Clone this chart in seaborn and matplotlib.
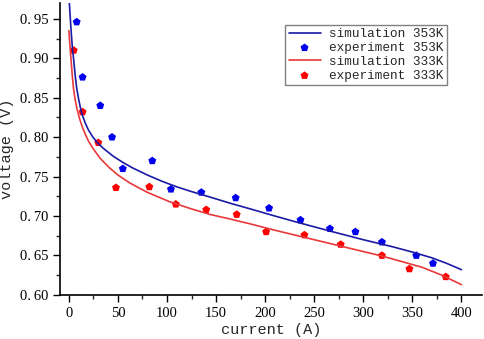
import numpy as np
import pandas as pd
import seaborn as sns
import matplotlib.pyplot as plt
from matplotlib.ticker import MultipleLocator, FuncFormatter

# simulation curves
sim_current_353 = [0.3, 1, 2.3, 3.5, 5, 6.5, 8, 10, 12, 14, 17, 20, 24, 29, 35, 45, 55, 65, 80,
                   95, 110, 125, 144, 165, 185, 210, 233, 266, 300, 330, 351, 370, 385, 400]
sim_voltage_353 = [0.974, 0.960, 0.935, 0.915, 0.897, 0.878, 0.862, 0.848, 0.836, 0.827, 0.817,
                   0.809, 0.801, 0.793, 0.786, 0.776, 0.768, 0.761, 0.752, 0.744, 0.737, 0.731,
                   0.724, 0.716, 0.709, 0.700, 0.692, 0.681, 0.670, 0.661, 0.654, 0.647, 0.640,
                   0.632]

sim_current_333 = [0, 1, 2.3, 3.5, 4.8, 6.5, 8.5, 11, 14, 17, 20, 25, 32, 41.5, 50, 62, 80, 103,
                   125, 144, 165, 185, 210, 240, 270, 300, 320, 340, 360, 380, 400]
sim_voltage_333 = [0.935, 0.918, 0.897, 0.878, 0.861, 0.847, 0.835, 0.823, 0.812, 0.803, 0.795,
                   0.785, 0.773, 0.761, 0.752, 0.742, 0.730, 0.718, 0.709, 0.702, 0.696, 0.690,
                   0.682, 0.673, 0.664, 0.655, 0.649, 0.642, 0.635, 0.625, 0.613]

# experiment points
exp_current_353 = [8, 14, 32, 44, 55, 85, 104, 135, 170, 204, 236, 266, 292, 319, 354, 371]
exp_voltage_353 = [0.946, 0.876, 0.840, 0.800, 0.760, 0.770, 0.734, 0.730, 0.723, 0.710, 0.695,
                   0.684, 0.680, 0.667, 0.650, 0.640]

exp_current_333 = [5, 14, 30, 48, 82, 109, 140, 171, 201, 240, 277, 319, 347, 384]
exp_voltage_333 = [0.910, 0.832, 0.793, 0.736, 0.737, 0.715, 0.708, 0.702, 0.680, 0.676, 0.664,
                   0.650, 0.633, 0.623]

sns.set_style("ticks")
plt.rcParams['font.family'] = ['Liberation Serif', 'DejaVu Serif']
mono = ['Liberation Mono', 'DejaVu Sans Mono']

fig = plt.figure(figsize=(4.84, 3.39), dpi=100)
ax = fig.add_axes([0.124, 0.130, 0.872, 0.861])

sns.lineplot(x=sim_current_353, y=sim_voltage_353, color='#1a1aa6', lw=1.2, sort=False,
             ax=ax, label='simulation 353K')
sns.scatterplot(x=exp_current_353, y=exp_voltage_353, color='#0000ee', marker='p', s=36,
                edgecolor='none', ax=ax, label='experiment 353K')
sns.lineplot(x=sim_current_333, y=sim_voltage_333, color='#e8383b', lw=1.2, sort=False,
             ax=ax, label='simulation 333K')
sns.scatterplot(x=exp_current_333, y=exp_voltage_333, color='#ff0000', marker='p', s=36,
                edgecolor='none', ax=ax, label='experiment 333K')

ax.set_xlim(-9, 421)
ax.set_ylim(0.60, 0.97)
ax.xaxis.set_major_locator(MultipleLocator(50))
ax.xaxis.set_minor_locator(MultipleLocator(25))
ax.yaxis.set_major_locator(MultipleLocator(0.05))
ax.yaxis.set_minor_locator(MultipleLocator(0.025))
ax.yaxis.set_major_formatter(FuncFormatter(lambda v, p: f"{v:.2f}".replace('.', '.\u2009')))
ax.tick_params(axis='both', which='major', direction='out', length=5, width=1, labelsize=10.5,
               colors='black')
ax.tick_params(axis='both', which='minor', direction='out', length=3, width=1)
for s in ['left', 'bottom']:
    ax.spines[s].set_linewidth(1.2)
    ax.spines[s].set_color('black')
sns.despine(ax=ax)

ax.set_xlabel('current (A)', family=mono, fontsize=11, labelpad=2)
ax.set_ylabel('voltage (V)', family=mono, fontsize=11, labelpad=4)

leg = ax.legend(loc='upper right', bbox_to_anchor=(0.917, 0.925), borderaxespad=0,
                frameon=True, fancybox=False, framealpha=1, edgecolor='#808080',
                prop={'family': mono, 'size': 9.2},
                handlelength=2.5, handletextpad=0.7, labelspacing=0.15, borderpad=0.25)
leg.get_frame().set_linewidth(1.0)

fig.savefig('out.png', dpi=100)
